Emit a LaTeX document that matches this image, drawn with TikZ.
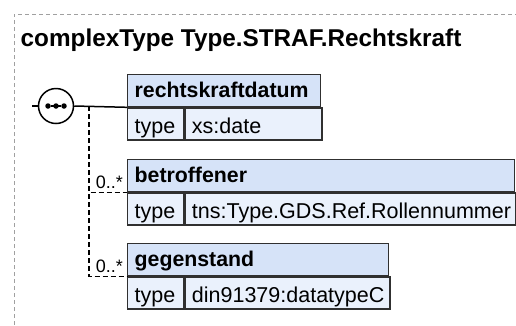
\documentclass[tikz,border=0pt]{standalone}
\usepackage{fontspec}
\setmainfont{Liberation Sans}
\definecolor{hdrfill}{HTML}{D6E3F8}
\definecolor{rowfill}{HTML}{EAF1FC}
\definecolor{boxline}{HTML}{303030}
\definecolor{framegray}{HTML}{A0A0A0}
\begin{document}
\begin{tikzpicture}[x=1pt,y=-1pt,
  cell/.style={draw=boxline, line width=1.3pt, anchor=north west, inner xsep=7pt, inner ysep=0pt,
    minimum height=32pt, align=left, text depth=0pt},
  hdr/.style={cell, fill=hdrfill, font=\bfseries\fontsize{21.3}{24}\selectfont, text height=14pt},
  typ/.style={cell, fill=rowfill, font=\fontsize{21.5}{24}\selectfont, text height=19pt},
  conn/.style={draw=black, line width=1.5pt},
  dconn/.style={draw=black, line width=1.3pt, dash pattern=on 5pt off 3pt},
  lbl/.style={font=\fontsize{18}{20}\selectfont, inner sep=0pt},
  dotn/.style={circle, fill=black, inner sep=0pt, minimum size=5.5pt},
  framestyle/.style={draw=framegray, line width=1pt, dash pattern=on 4pt off 3pt}]
\useasboundingbox (0,0) rectangle (516,325);
% outer frame
\draw[framestyle] (14,325) -- (14,14) -- (516,14);
% title
\node[anchor=base west, inner sep=0pt, font=\bfseries\fontsize{24.3}{27}\selectfont] (title) at (20.5,46) {complexType Type.STRAF.Rechtskraft};
% box 1
\node[hdr, text width=179pt] (h1) at (127,74) {rechtskraftdatum};
\node[typ, text width=42pt] (t1) at (h1.south west) {type};
\node[typ, text width=123pt] (v1) at (t1.north east) {xs:date};
% box 2
\node[hdr, text width=373pt] (h2) at (127,159) {betroffener};
\node[typ, text width=42pt] (t2) at (h2.south west) {type};
\node[typ, text width=317pt] (v2) at (t2.north east) {tns:Type.GDS.Ref.Rollennummer};
% box 3
\node[hdr, text width=247pt] (h3) at (127,243) {gegenstand};
\node[typ, text width=42pt] (t3) at (h3.south west) {type};
\node[typ, text width=191pt] (v3) at (t3.north east) {din91379:datatypeC};
% sequence compositor
\coordinate (in) at (32,106);
\node[draw=black, circle, line width=1.5pt, fill=white, inner sep=0pt, minimum size=35pt] (seq) at (56,106) {};
\node[dotn] (d1) at (48,106) {};
\node[dotn] (d2) at (56,106) {};
\node[dotn] (d3) at (64,106) {};
\draw[conn] (d1) -- (d3);
\draw[conn] (in) -- (seq.west);
\draw[conn] (seq.east) -- (h1.south west);
% branches
\coordinate (br) at (89,106);
\draw[dconn] (br) |- (h2.south west);
\draw[dconn] (br) |- (h3.south west);
\node[lbl, anchor=base east] (m2) at ([xshift=-4pt,yshift=4pt]h2.south west) {0..*};
\node[lbl, anchor=base east] (m3) at ([xshift=-4pt,yshift=4pt]h3.south west) {0..*};
\end{tikzpicture}
\end{document}
